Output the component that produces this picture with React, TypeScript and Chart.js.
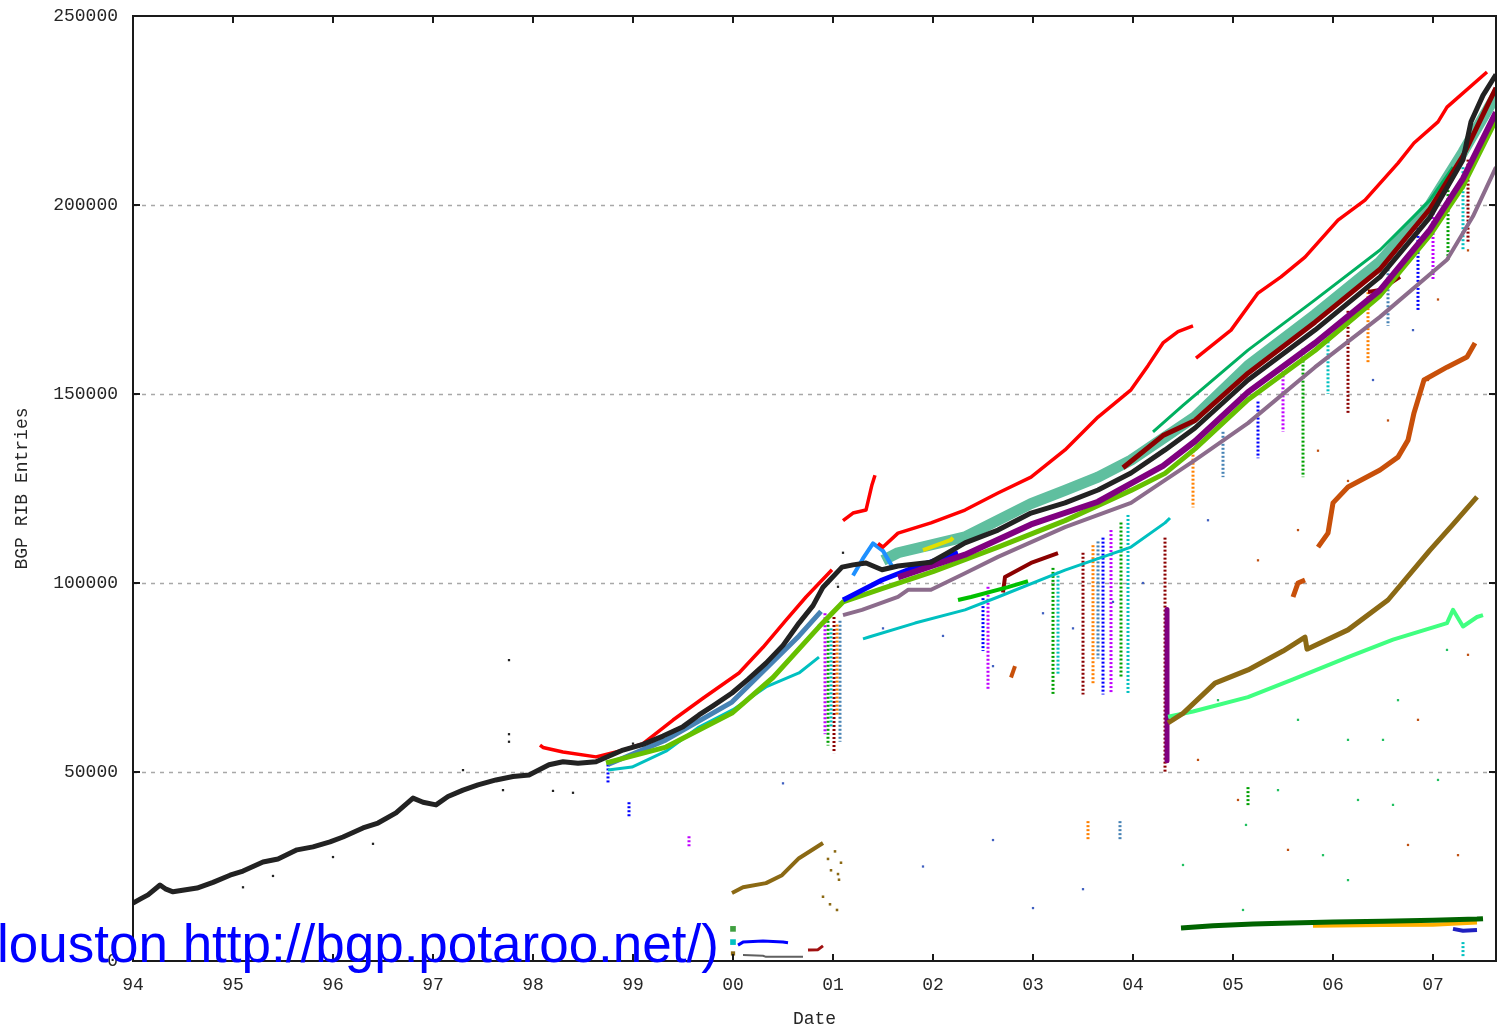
import React, { useEffect, useRef } from "react";
import { Chart, registerables } from "chart.js";

Chart.register(...registerables);

type P = [number, number];

// ---- axis ticks ----
const xTickYears = [1994, 1995, 1996, 1997, 1998, 1999, 2000, 2001, 2002, 2003, 2004, 2005, 2006, 2007];
const xTickLabels = ["94", "95", "96", "97", "98", "99", "00", "01", "02", "03", "04", "05", "06", "07"];
const yTickValues = [0, 50000, 100000, 150000, 200000, 250000];
const yGridValues = [50000, 100000, 150000, 200000];
const xMin = 1994;
const xMax = 2007.63;
const yTitle = "BGP RIB Entries";
const xTitle = "Date";
const overlayText = "louston http://bgp.potaroo.net/)";

// ---- series (year, RIB entries) ----
const black: P[] = [
  [1994.0, 15300], [1994.08, 16500], [1994.15, 17500], [1994.27, 20100], [1994.33, 19000], [1994.4, 18300],
  [1994.64, 19300], [1994.8, 20800], [1994.97, 22700], [1995.1, 23800], [1995.3, 26200], [1995.45, 27000],
  [1995.64, 29400], [1995.8, 30200], [1995.97, 31500], [1996.1, 32800], [1996.3, 35200], [1996.45, 36500],
  [1996.63, 39200], [1996.8, 43100], [1996.9, 42000], [1997.03, 41300], [1997.15, 43500], [1997.3, 45200],
  [1997.45, 46600], [1997.63, 47900], [1997.8, 48800], [1997.96, 49200], [1998.16, 51900], [1998.3, 52700],
  [1998.45, 52300], [1998.63, 52700], [1998.9, 55800], [1999.1, 57300], [1999.3, 59500], [1999.5, 62000],
  [1999.66, 65100], [1999.8, 67500], [1999.99, 70900], [2000.15, 74500], [2000.33, 78800], [2000.5, 83500],
  [2000.66, 89400], [2000.8, 94000], [2000.9, 98900], [2001.09, 104200], [2001.2, 104800], [2001.33, 105300],
  [2001.49, 103500], [2001.65, 104500], [2001.98, 105500], [2002.15, 108000], [2002.32, 110600], [2002.65, 114000],
  [2002.98, 118500], [2003.32, 121200], [2003.65, 124600], [2003.98, 129100], [2004.32, 135200], [2004.62, 141000],
  [2005.15, 153700], [2005.82, 166900], [2006.47, 181000], [2006.97, 196800], [2007.3, 212000], [2007.38, 222000],
  [2007.5, 229000], [2007.63, 234500],
];
const red1: P[] = [
  [1998.07, 57100], [1998.1, 56500], [1998.3, 55300], [1998.63, 54000], [1998.9, 55800],
  [1999.1, 57500], [1999.4, 63750], [1999.7, 69500], [2000.06, 76200], [2000.3, 83000],
  [2000.53, 90200], [2000.73, 96300], [2000.99, 103500],
];
const red2: P[] = [[2001.1, 116500], [2001.2, 118500], [2001.33, 119300], [2001.39, 126000], [2001.42, 128500]];
const red3: P[] = [
  [2001.45, 110500], [2001.5, 109500], [2001.65, 113200], [2001.98, 115900], [2002.32, 119300],
  [2002.65, 123800], [2002.98, 128000], [2003.32, 135200], [2003.65, 143900], [2003.98, 151100],
  [2004.15, 157500], [2004.3, 163500], [2004.45, 166500], [2004.6, 168000],
];
const red4: P[] = [
  [2004.63, 159500], [2004.98, 166900], [2005.25, 176700], [2005.48, 181000], [2005.72, 186200],
  [2006.05, 196000], [2006.32, 201300], [2006.65, 211100], [2006.81, 216400], [2007.05, 222000],
  [2007.14, 225900], [2007.54, 235200],
];
const tealBand: P[] = [
  [2001.5, 106000], [2001.65, 108000], [2002.32, 112200], [2002.98, 121000], [2003.32, 124500],
  [2003.65, 128000], [2003.98, 132500], [2004.32, 138600], [2004.62, 144000], [2005.15, 157500],
  [2005.82, 171000], [2006.47, 185000], [2006.97, 200000], [2007.3, 214000], [2007.63, 229000],
];
const seaGreen: P[] = [
  [2004.2, 140000], [2004.5, 147000], [2005.15, 161600], [2005.82, 174900], [2006.47, 188100],
  [2006.97, 201300], [2007.2, 210000],
];
const darkRed: P[] = [
  [2003.9, 130500], [2004.3, 139000], [2004.62, 143000], [2005.15, 155500], [2005.82, 169000],
  [2006.47, 183000], [2006.97, 199000], [2007.3, 213000], [2007.63, 231000],
];
const purple: P[] = [
  [2001.65, 101500], [2002.32, 107500], [2002.98, 115500], [2003.65, 121500], [2004.3, 131000],
  [2004.62, 137500], [2005.15, 150500], [2005.82, 163500], [2006.47, 177500], [2006.97, 193500],
  [2007.3, 207000], [2007.63, 224500],
];
const yellowGreen: P[] = [
  [1998.73, 52400], [1999.33, 56600], [1999.99, 65600], [2000.4, 75000], [2000.86, 88400],
  [2001.1, 95000], [2001.49, 98500], [2002.0, 103000], [2002.65, 109500], [2003.32, 116500],
  [2003.98, 124500], [2004.32, 129000], [2004.62, 135500], [2005.15, 148500], [2005.82, 161500],
  [2006.47, 176000], [2006.97, 192000], [2007.3, 205000], [2007.63, 222500],
];
const steelBlue: P[] = [[1998.75, 52000], [1999.33, 58500], [1999.99, 68500], [2000.66, 86000], [2000.88, 92500]];
const blueBand: P[] = [[2001.1, 95500], [2001.16, 96300], [2001.49, 100800], [2001.82, 104200], [2002.25, 108000]];
const lightBlue: P[] = [[2001.2, 102000], [2001.3, 106500], [2001.4, 110500], [2001.5, 108500], [2001.6, 104000]];
const mauve: P[] = [
  [2001.1, 91500], [2001.29, 92900], [2001.65, 96300], [2001.75, 98200], [2001.98, 98200],
  [2002.32, 102600], [2002.65, 106900], [2003.32, 114800], [2003.98, 121200], [2004.32, 127200],
  [2004.62, 132500], [2005.15, 142300], [2005.82, 157100], [2006.47, 170400], [2007.14, 185500],
  [2007.4, 197000], [2007.63, 210000],
];
const cyan1: P[] = [
  [1998.75, 50500], [1998.99, 51300], [1999.33, 55500], [1999.66, 61900], [2000.0, 66500],
  [2000.33, 72500], [2000.66, 76200], [2000.86, 80400],
];
const cyan2: P[] = [
  [2001.3, 85200], [2001.36, 85700], [2001.82, 89400], [2002.32, 92900], [2002.65, 96300],
  [2003.32, 103400], [2003.98, 109500], [2004.32, 115900], [2004.37, 117200],
];
const green2002: P[] = [[2002.25, 95500], [2002.38, 96300], [2002.75, 98900], [2002.95, 100500]];
const darkRed2003: P[] = [[2002.7, 97500], [2002.72, 101600], [2002.98, 105300], [2003.25, 107900]];
const darkRed2006: P[] = [[2006.35, 177000], [2006.47, 177500], [2006.67, 181000]];
const yellow2002: P[] = [[2001.9, 108700], [2002.18, 111400], [2002.2, 112000]];
const brownEarly: P[] = [
  [1999.99, 18000], [2000.1, 19500], [2000.33, 20600], [2000.49, 22700], [2000.66, 27200], [2000.9, 31200],
];
const brownLate: P[] = [
  [2004.35, 63000], [2004.5, 65500], [2004.82, 73500], [2005.15, 77000], [2005.5, 82000],
  [2005.72, 85700], [2005.74, 82500], [2006.15, 87600], [2006.55, 95500], [2006.97, 108700],
  [2007.2, 115500], [2007.44, 122800],
];
const orange1: P[] = [[2005.6, 96300], [2005.65, 100000], [2005.72, 100800]];
const orange2: P[] = [
  [2005.85, 109500], [2005.95, 113200], [2006.0, 121200], [2006.15, 125400], [2006.47, 129900],
  [2006.65, 133300], [2006.75, 137800], [2006.81, 145000], [2006.91, 153700], [2007.14, 157100],
  [2007.34, 159800], [2007.42, 163500],
];
const orange2002: P[] = [[2002.78, 75000], [2002.82, 78000]];
const springGreen: P[] = [
  [2004.35, 64600], [2004.6, 66000], [2005.15, 69800], [2005.6, 74500], [2006.15, 80400],
  [2006.6, 85000], [2007.14, 89400], [2007.2, 92900], [2007.3, 88500], [2007.44, 91000], [2007.5, 91500],
];
const darkGreenLow: P[] = [
  [2004.48, 8700], [2004.8, 9300], [2005.2, 9800], [2005.48, 10000], [2006.0, 10300],
  [2006.5, 10500], [2007.0, 10800], [2007.44, 11100], [2007.5, 11200],
];
const amberLow: P[] = [[2005.8, 9300], [2006.5, 9500], [2007.0, 9600], [2007.44, 10200]];
const blueLow2007: P[] = [[2007.2, 8500], [2007.3, 8000], [2007.44, 8200]];
const blueLow2000: P[] = [[2000.05, 4200], [2000.1, 5000], [2000.3, 5300], [2000.5, 5000], [2000.55, 4800]];
const darkRedLow2000: P[] = [[2000.75, 2900], [2000.85, 3000], [2000.9, 4000]];
const grayLow2000: P[] = [[2000.1, 1600], [2000.3, 1400], [2000.33, 1100], [2000.7, 1100]];
const purpleDrop: P[] = [[2004.34, 93000], [2004.34, 53000]];

// dropout spikes: [year, top, bottom]
const spikes: [number, number, number][] = [
  [1998.75, 52000, 47000], [2000.92, 92000, 60000], [2000.95, 90000, 57000], [2000.98, 88000, 62000],
  [2001.01, 91000, 55000], [2001.04, 89000, 65000], [2001.07, 90000, 58000], [2002.5, 96000, 82000],
  [2002.55, 99000, 72000], [2003.2, 104000, 70500], [2003.25, 103000, 76000], [2003.5, 108000, 70500],
  [2003.6, 110000, 73000], [2003.65, 111000, 80000], [2003.7, 112000, 70500], [2003.78, 114000, 71000],
  [2003.88, 116000, 75000], [2003.95, 118000, 70500], [2004.32, 112000, 50000],
  [2004.6, 135000, 120000], [2004.9, 140000, 128000], [2005.25, 148000, 133000], [2005.5, 156000, 140000],
  [2005.7, 162000, 128000], [2005.95, 165000, 150000], [2006.15, 172000, 145000], [2006.35, 178000, 158000],
  [2006.55, 183000, 168000], [2006.85, 195000, 172000], [2007.0, 200000, 180000], [2007.15, 205000, 185000],
  [2007.3, 210000, 188000], [2007.35, 212000, 190000], [2003.55, 37000, 32000], [2003.87, 37000, 32000],
  [1998.96, 42000, 38000], [1999.56, 33000, 30000], [2005.15, 46000, 41000], [2007.3, 5000, 1000],
];

// stray single readings
const strayDotsA: P[] = [
  [2004.5, 25400], [2005.13, 36000], [2005.45, 45200], [2005.9, 28000], [2006.25, 42600],
  [2006.5, 58500], [2006.65, 69000], [2007.14, 82300], [2005.1, 13500], [2006.15, 21400],
  [2007.05, 47900], [2006.6, 41300], [2004.85, 69000], [2005.65, 63800], [2006.15, 58500],
];
const strayDotsB: P[] = [
  [2006.85, 63800], [2007.35, 81000], [2004.65, 53200], [2005.05, 42600], [2005.55, 29400],
  [2006.75, 30700], [2007.25, 28000], [2005.65, 114000], [2006.15, 127000], [2006.55, 143000],
  [2006.95, 153700], [2005.25, 106000], [2005.85, 135000], [2007.05, 175000], [2007.35, 188000],
];
const strayDotsC: P[] = [
  [2004.75, 116600], [2006.4, 153700], [2006.8, 166900], [2002.6, 78000], [2002.1, 86000],
  [2001.5, 88000], [2003.1, 92000], [2003.4, 88000], [2003.8, 95000], [2004.1, 100000],
  [2000.5, 47000], [2001.9, 25000], [2003.0, 14000], [2002.6, 32000], [2003.5, 19000],
];
const strayDotsBlack: P[] = [
  [1997.76, 79600], [1997.76, 60000], [1997.76, 58000], [1997.3, 50500], [1997.7, 45200],
  [1996.4, 31000], [1996.0, 27500], [1995.4, 22500], [1995.1, 19500], [1998.2, 45000],
  [1998.4, 44500], [1999.0, 57500], [2001.1, 108000], [2001.05, 99000],
];
const brownScatter: P[] = [
  [2000.95, 27000], [2000.98, 24000], [2001.02, 29000], [2001.05, 23000], [2001.08, 26000],
  [2001.06, 21500], [2000.9, 17000], [2000.97, 15000], [2001.04, 13500],
];
const marksAt2000: P[] = [[2000.0, 8500], [2000.0, 5000], [2000.0, 2000]];

const spikeColors = ["#0000ff", "#c000ff", "#00a000", "#00c0c0", "#8b0000", "#ff8000", "#4682b4"];
const strayColors = ["#20c060", "#c05010", "#4060c0", "#c040ff", "#60a0a0"];

const toXY = (pts: P[]) => pts.map(([x, y]) => ({ x, y }));

function band(label: string, pts: P[], color: string, width: number, order: number) {
  return {
    label,
    data: toXY(pts),
    showLine: true,
    borderColor: color,
    backgroundColor: color,
    borderWidth: width,
    pointRadius: 0,
    tension: 0,
    borderJoinStyle: "round" as const,
    borderCapStyle: "butt" as const,
    order,
  };
}

function dots(label: string, pts: P[], color: string, size: number, order: number) {
  return {
    label,
    data: toXY(pts),
    showLine: false,
    pointStyle: "rect" as const,
    pointRadius: size,
    pointBorderWidth: 0,
    backgroundColor: color,
    borderColor: color,
    order,
  };
}

const framePlugin = {
  id: "gnuplotFrame",
  beforeDatasetsDraw(chart: any) {
    const { ctx, chartArea } = chart;
    const ys = chart.scales.y;
    ctx.save();
    ctx.strokeStyle = "#a8a8a8";
    ctx.lineWidth = 1.3;
    ctx.setLineDash([4, 5]);
    for (const v of yGridValues) {
      const py = Math.round(ys.getPixelForValue(v)) + 0.5;
      ctx.beginPath();
      ctx.moveTo(chartArea.left, py);
      ctx.lineTo(chartArea.right, py);
      ctx.stroke();
    }
    ctx.restore();
  },
  afterDraw(chart: any) {
    const { ctx, chartArea } = chart;
    const xs = chart.scales.x;
    const ys = chart.scales.y;
    const { left, right, top, bottom } = chartArea;
    ctx.save();
    ctx.strokeStyle = "#1a1a1a";
    ctx.lineWidth = 2;
    ctx.setLineDash([]);
    ctx.strokeRect(left, top, right - left, bottom - top);
    const tl = 7;
    ctx.beginPath();
    for (const yr of xTickYears) {
      const px = Math.round(xs.getPixelForValue(yr));
      ctx.moveTo(px, bottom);
      ctx.lineTo(px, bottom - tl);
      ctx.moveTo(px, top);
      ctx.lineTo(px, top + tl);
    }
    for (const v of yTickValues) {
      const py = Math.round(ys.getPixelForValue(v));
      ctx.moveTo(left, py);
      ctx.lineTo(left + tl, py);
      ctx.moveTo(right, py);
      ctx.lineTo(right - tl, py);
    }
    ctx.stroke();
    ctx.fillStyle = "#0000ff";
    ctx.font = '53px "Liberation Sans", Arial, sans-serif';
    ctx.textBaseline = "alphabetic";
    ctx.textAlign = "left";
    ctx.fillText(overlayText, -3, 962);
    ctx.restore();
  },
};

export default function App() {
  const canvasRef = useRef<HTMLCanvasElement | null>(null);

  useEffect(() => {
    const canvas = canvasRef.current;
    if (!canvas) return;

    const datasets: any[] = [
      band("black", black, "#222222", 5, 1),
      band("red1", red1, "#ff0000", 3.5, 2),
      band("red2", red2, "#ff0000", 3.5, 2),
      band("red3", red3, "#ff0000", 3.5, 2),
      band("red4", red4, "#ff0000", 3.5, 2),
      band("darkRed", darkRed, "#8b0000", 5, 3),
      band("purple", purple, "#800080", 6, 4),
      band("yellowGreen", yellowGreen, "#66c000", 5, 5),
      band("seaGreen", seaGreen, "#00b060", 3, 6),
      band("tealBand", tealBand, "#5fbf9f", 11, 7),
      band("steelBlue", steelBlue, "#4682b4", 5, 5),
      band("blueBand", blueBand, "#0000ff", 5, 4),
      band("lightBlue", lightBlue, "#1e90ff", 4, 4),
      band("mauve", mauve, "#8c6c8c", 4, 6),
      band("cyan1", cyan1, "#00c0c0", 3, 6),
      band("cyan2", cyan2, "#00c0c0", 3, 6),
      band("green2002", green2002, "#00c000", 4, 6),
      band("darkRed2003", darkRed2003, "#8b0000", 4, 6),
      band("darkRed2006", darkRed2006, "#8b0000", 4, 6),
      band("yellow2002", yellow2002, "#e0e000", 4, 6),
      band("brownEarly", brownEarly, "#8b6914", 4, 6),
      band("brownLate", brownLate, "#8b6914", 5, 6),
      band("orange1", orange1, "#c8500a", 5, 6),
      band("orange2", orange2, "#c8500a", 5, 6),
      band("orange2002", orange2002, "#c8500a", 4, 6),
      band("springGreen", springGreen, "#40ff80", 4, 6),
      band("darkGreenLow", darkGreenLow, "#006400", 5, 6),
      band("amberLow", amberLow, "#ffb000", 4, 7),
      band("blueLow2007", blueLow2007, "#2020c0", 4, 6),
      band("blueLow2000", blueLow2000, "#0000ff", 3, 6),
      band("darkRedLow2000", darkRedLow2000, "#a01010", 3, 6),
      band("grayLow2000", grayLow2000, "#606060", 2, 6),
      band("purpleDrop", purpleDrop, "#800080", 5, 8),
      dots("strayA", strayDotsA, strayColors[0], 1.6, 9),
      dots("strayB", strayDotsB, strayColors[1], 1.6, 9),
      dots("strayC", strayDotsC, strayColors[2], 1.6, 9),
      dots("strayBlack", strayDotsBlack, "#222222", 1.6, 9),
      dots("brownScatter", brownScatter, "#8b6914", 1.8, 9),
      dots("marks2000a", marksAt2000.slice(0, 1), "#40a040", 4, 9),
      dots("marks2000b", marksAt2000.slice(1, 2), "#00c0c0", 4, 9),
      dots("marks2000c", marksAt2000.slice(2, 3), "#8b6914", 3, 9),
    ];

    spikes.forEach(([yr, hi, lo], i) => {
      const c = spikeColors[i % spikeColors.length];
      datasets.push({
        label: "spike" + i,
        data: [{ x: yr, y: hi }, { x: yr, y: lo }],
        showLine: true,
        borderColor: c,
        borderWidth: 3,
        borderDash: [2, 2],
        pointRadius: 0,
        order: 10,
      });
    });

    const chart = new Chart(canvas, {
      type: "scatter",
      data: { datasets },
      options: {
        animation: false,
        responsive: false,
        devicePixelRatio: 1,
        layout: { padding: { top: 16, right: 3, left: 0, bottom: 0 } },
        plugins: { legend: { display: false }, tooltip: { enabled: false } },
        scales: {
          x: {
            type: "linear",
            min: xMin,
            max: xMax,
            grid: { display: false, drawTicks: false },
            border: { display: false },
            afterBuildTicks: (scale: any) => {
              scale.ticks = xTickYears.map((v) => ({ value: v }));
            },
            afterFit: (scale: any) => {
              scale.height = 67;
              scale.paddingLeft = 0;
              scale.paddingRight = 0;
            },
            ticks: {
              autoSkip: false,
              maxRotation: 0,
              minRotation: 0,
              padding: 13,
              color: "#262626",
              font: { family: '"Liberation Mono", "DejaVu Sans Mono", monospace', size: 18 },
              callback: (v: any) => {
                const i = xTickYears.indexOf(Math.round(Number(v)));
                return i >= 0 ? xTickLabels[i] : "";
              },
            },
            title: {
              display: true,
              text: xTitle,
              color: "#262626",
              padding: 0,
              font: { family: '"Liberation Mono", "DejaVu Sans Mono", monospace', size: 18, lineHeight: 1 },
            },
          },
          y: {
            type: "linear",
            min: 0,
            max: 250000,
            grid: { display: false, drawTicks: false },
            border: { display: false },
            afterBuildTicks: (scale: any) => {
              scale.ticks = yTickValues.map((v) => ({ value: v }));
            },
            afterFit: (scale: any) => {
              scale.width = 133;
              scale.paddingTop = 0;
              scale.paddingBottom = 0;
            },
            ticks: {
              padding: 15,
              color: "#262626",
              font: { family: '"Liberation Mono", "DejaVu Sans Mono", monospace', size: 18 },
              callback: (v: any) => String(v),
            },
            title: {
              display: true,
              text: yTitle,
              color: "#262626",
              padding: { top: 13, bottom: 0 },
              font: { family: '"Liberation Mono", "DejaVu Sans Mono", monospace', size: 18, lineHeight: 1 },
            },
          },
        },
      },
      plugins: [framePlugin],
    } as any);

    return () => chart.destroy();
  }, []);

  return (
    <div style={{ position: "fixed", left: 0, top: 0, width: 1500, height: 1028, background: "#ffffff" }}>
      <canvas ref={canvasRef} width={1500} height={1028} style={{ display: "block", width: 1500, height: 1028 }} />
    </div>
  );
}
